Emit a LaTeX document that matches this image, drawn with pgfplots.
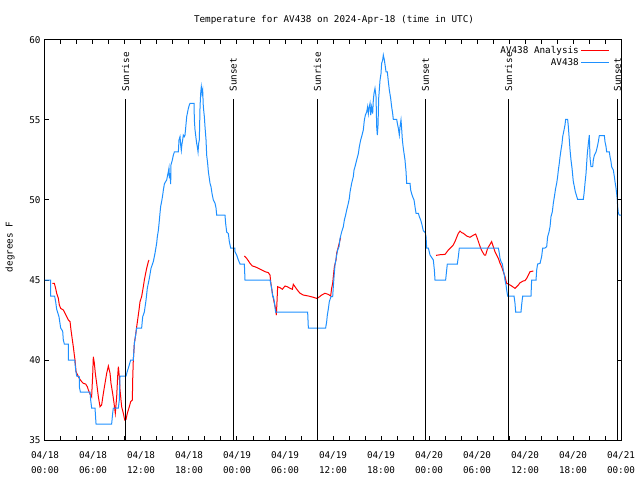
\documentclass[border=0pt]{standalone}
\usepackage{pgfplots}
\pgfplotsset{compat=1.18}
\usepackage{fontspec}
\setmainfont{DejaVu Sans Mono}
\definecolor{gpblue}{RGB}{30,144,255}
\definecolor{gpred}{RGB}{255,0,0}
\begin{document}
\begin{tikzpicture}[font=\fontsize{9.3bp}{11bp}\selectfont]
\useasboundingbox (-45bp,-40bp) rectangle (595bp,440bp);
\begin{axis}[
  width=576bp, height=400bp, scale only axis,
  xmin=0, xmax=72, ymin=35, ymax=60,
  clip=false,
  axis line style={black, line width=1bp},
  every tick/.style={black, line width=1bp},
  tick align=inside,
  major tick length=4.5bp, minor tick length=4.5bp,
  xtick={0,6,...,72}, minor x tick num=2,
  xticklabels={{04/18\\00:00},{04/18\\06:00},{04/18\\12:00},{04/18\\18:00},{04/19\\00:00},{04/19\\06:00},{04/19\\12:00},{04/19\\18:00},{04/20\\00:00},{04/20\\06:00},{04/20\\12:00},{04/20\\18:00},{04/21\\00:00}},
  xticklabel style={align=center, font=\fontsize{9.3bp}{15bp}\selectfont, yshift=-8bp},
  ytick={35,40,...,60},
  yticklabel style={xshift=-1bp},
  /pgf/number format/assume math mode=true,
  legend style={at={(1,1)}, anchor=north east, xshift=-10bp, yshift=-3.5bp, draw=none, fill=none, font=\fontsize{9.3bp}{11bp}\selectfont, row sep=-1bp, inner sep=1bp},
  legend cell align=right,
  legend plot pos=right,
  legend image code/.code={\draw[#1] (0bp,0bp) -- (28bp,0bp);},
]
\addplot[gpred, line width=1bp, unbounded coords=jump] coordinates {
(0.92,44.79)(1.17,44.79)(1.33,44.48)(1.46,44.17)(1.67,43.85)(1.79,43.44)(1.96,43.23)(2.29,43.125)(2.5,42.92)(2.71,42.71)(2.92,42.5)(3.13,42.4)(3.25,41.875)(3.42,41.25)(3.54,40.83)(3.67,40.3)(3.75,40.0)(3.88,39.27)(4.08,39.06)(4.29,38.85)(4.58,38.65)(4.79,38.54)(5.08,38.5)(5.29,38.33)(5.42,38.125)(5.63,37.875)(5.83,37.7)(5.96,39.06)(6.04,40.2)(6.17,39.8)(6.29,39.17)(6.46,38.54)(6.67,37.7)(6.88,37.08)(7.08,37.19)(7.29,37.9)(7.5,38.54)(7.71,39.17)(7.92,39.625)(8.13,39.17)(8.25,38.54)(8.46,37.9)(8.63,37.3)(8.79,36.67)(8.96,37.7)(9.08,38.96)(9.17,39.58)(9.29,38.96)(9.38,38.125)(9.58,37.08)(9.79,36.67)(9.96,36.25)(10.13,36.29)(10.29,36.67)(10.54,37.08)(10.71,37.4)(10.92,37.5)(10.96,38.75)(11.04,40.0)(11.17,41.04)(11.33,41.56)(11.46,42.08)(11.58,42.5)(11.75,43.125)(11.88,43.65)(12.08,43.96)(12.29,44.58)(12.42,45.0)(12.58,45.42)(12.71,45.73)(12.92,46.15)(13.0,46.25)
(18,nan)
(24.92,46.5)(25.21,46.35)(25.42,46.2)(25.63,46.04)(25.92,45.875)(26.25,45.83)(26.67,45.73)(27.08,45.625)(27.5,45.52)(27.92,45.46)(28.13,45.3)(28.21,44.9)(28.33,44.48)(28.46,44.06)(28.67,43.54)(28.79,43.29)(28.92,42.8)(29.0,43.65)(29.08,44.58)(29.38,44.52)(29.67,44.42)(30.0,44.625)(30.29,44.58)(30.63,44.48)(30.92,44.42)(31.04,44.73)(31.25,44.58)(31.54,44.375)(31.88,44.17)(32.29,44.06)(32.92,44.0)(33.54,43.92)(33.96,43.85)(34.17,43.9)(34.58,44.06)(35.0,44.17)(35.42,44.1)(35.71,44.0)(35.83,44.48)(35.96,44.79)(36.04,45.2)(36.17,45.83)(36.38,46.25)(36.46,46.67)(36.67,47.08)(36.88,47.5)(36.95,47.65)
(42,nan)
(48.88,46.54)(49.38,46.58)(50.0,46.6)(50.42,46.875)(50.83,47.08)(51.04,47.19)(51.25,47.4)(51.46,47.67)(51.67,47.92)(51.88,48.06)(52.08,47.96)(52.29,47.92)(52.71,47.75)(53.13,47.67)(53.54,47.8)(53.83,47.875)(54.04,47.6)(54.25,47.29)(54.46,46.98)(54.67,46.77)(54.92,46.56)(55.08,46.56)(55.33,46.98)(55.63,47.23)(55.83,47.4)(56.04,47.08)(56.25,46.77)(56.46,46.56)(56.67,46.35)(56.88,46.04)(57.08,45.83)(57.29,45.52)(57.5,45.2)(57.71,44.79)(57.92,44.75)(58.33,44.625)(58.75,44.48)(58.96,44.58)(59.17,44.69)(59.38,44.83)(59.79,44.94)(60.0,44.96)(60.21,45.1)(60.42,45.31)(60.63,45.52)(61.04,45.56)
};
\addlegendentry{AV438 Analysis}
\addplot[gpblue, line width=1bp] coordinates {
(0,45)(0.7,45)(0.7,44)(1.2,44)(1.33,43.65)(1.46,43.17)(1.75,42.7)(1.96,42.0)(2.21,41.8)(2.29,41.25)(2.42,41.0)(2.92,41)(2.92,40)(3.71,40)(3.83,39.4)(3.96,39.0)(4.29,38.95)(4.29,38.33)(4.42,38.0)(5.63,38)(5.71,37.5)(5.83,37.0)(6.25,37)(6.38,36)(8.33,36)(8.46,36.67)(8.54,37.0)(9.17,37)(9.29,37.5)(9.38,39.0)(10.13,39)(10.29,39.3)(10.42,39.5)(10.54,39.7)(10.71,40)(11.04,40)(11.17,41.04)(11.33,41.56)(11.46,42)(12.08,42)(12.21,42.7)(12.42,43.0)(12.63,43.75)(12.79,44.48)(13.04,45.1)(13.25,45.73)(13.54,46.15)(13.75,46.67)
(13.96,47.3)(14.04,47.7)(14.17,48.1)(14.25,48.5)(14.38,49.2)(14.46,49.6)(14.58,49.9)(14.71,50.3)(14.79,50.6)(14.92,51.0)(15.08,51.15)(15.21,51.25)(15.33,51.56)(15.42,51.77)(15.5,52.0)(15.54,51.35)(15.63,51.67)(15.71,51.0)(15.75,52.2)(15.92,52.5)(16.04,52.8)(16.17,53.0)(16.67,53)(16.75,53.75)(16.88,53.96)(16.96,53.44)(17.04,53.1)(17.13,53.54)(17.21,53.75)(17.29,54.06)(17.42,53.96)(17.5,54.06)(17.58,54.48)(17.71,55.2)(17.83,55.5)(17.92,55.73)(18.04,55.94)(18.13,56.04)(18.63,56.04)(18.67,55.0)(18.75,54.4)(18.88,53.85)(18.96,53.54)(19.04,53.33)(19.13,53.0)(19.21,53.54)(19.29,53.75)(19.38,55.83)(19.46,56.67)(19.54,57.08)(19.63,56.67)(19.71,56.875)(19.79,55.83)(19.92,55.2)(20.0,54.58)(20.13,53.75)(20.21,52.8)(20.33,52.3)(20.42,51.77)(20.54,51.35)(20.63,51.04)(20.75,50.83)(20.88,50.4)(21.04,50.0)(21.25,49.8)(21.38,49.5)(21.46,49.06)(22.5,49.06)(22.58,48.54)(22.71,48.0)(22.92,47.9)(23.04,47.4)(23.21,47.0)(23.75,47.0)(23.75,46.77)(23.96,46.56)(24.17,46.25)(24.38,46.0)(24.92,46)(25.0,45)
(28.13,45)(28.21,44.8)(28.33,44.48)(28.46,43.96)(28.54,43.96)(28.67,43.65)(28.75,43.3)(28.83,43.0)(32.83,43)(32.92,42.0)(35.08,42)(35.21,42.4)(35.29,42.8)(35.42,43.2)(35.54,43.65)(35.75,43.96)(35.96,43.96)(36.04,44.58)(36.13,45.2)(36.25,45.94)(36.46,46.56)(36.58,46.875)(36.75,47.08)(36.88,47.6)(37.08,48.0)(37.29,48.33)(37.42,48.75)
(37.58,49.06)(37.71,49.375)(37.92,49.8)(38.04,50.1)(38.13,50.5)(38.33,51.04)(38.54,51.46)(38.63,51.875)(38.75,52.08)(38.96,52.5)(39.17,52.9)(39.29,53.33)(39.46,53.75)(39.58,53.96)(39.79,54.375)(39.92,55.0)(40.04,55.3)(40.21,55.5)(40.33,55.83)(40.42,55.4)(40.5,55.73)(40.63,56.04)(40.71,55.3)(40.83,55.83)(40.96,55.4)(41.04,56.25)(41.13,56.67)(41.25,56.98)(41.38,56.46)(41.46,54.58)(41.54,54.06)(41.63,54.69)(41.71,56.35)(41.88,57.5)(42.0,57.9)(42.08,58.54)(42.21,58.75)(42.29,59.06)(42.42,58.75)(42.54,58.33)(42.63,58.0)(42.79,58.0)(42.92,57.4)(43.04,56.875)(43.21,56.35)(43.33,55.83)(43.46,55.4)(43.54,55.04)(43.96,55.04)(44.04,54.8)(44.17,54.48)(44.29,54.06)(44.38,54.58)(44.5,55.0)(44.58,54.48)(44.67,53.75)(44.79,53.23)(45.0,52.5)(45.13,51.77)(45.21,51.04)(45.63,51.04)(45.71,50.625)(45.83,50.4)(45.96,50.2)(46.13,50.0)(46.25,49.58)(46.38,49.17)(46.67,49.17)(46.79,48.96)(46.96,48.75)(47.08,48.54)(47.29,48.08)(47.54,47.96)(47.63,47.7)(47.71,47.0)(47.92,47.0)(48.13,46.56)(48.54,46.25)(48.67,45.625)(48.75,45.0)(50.08,45)(50.21,45.625)(50.29,46.0)(51.54,46)(51.67,46.46)(51.79,47.0)
(56.67,47)(56.79,46.67)(56.88,46.35)(57.0,46.15)(57.17,46.0)(57.29,45.625)(57.42,45.3)(57.5,45.0)(57.63,44.69)(57.71,44.375)(57.83,44.0)(58.63,44)(58.75,43.54)(58.83,43.0)(59.5,43)(59.58,43.44)(59.71,44.0)(60.75,44)(60.83,45.0)(61.38,45)(61.46,45.625)(61.58,46.0)(61.88,46.04)(62.08,46.46)(62.21,47.0)(62.5,47)(62.71,47.08)(62.83,47.7)(63.0,48.0)(63.13,48.33)(63.25,48.96)(63.42,49.27)(63.54,49.8)(63.67,50.2)(63.83,50.73)(63.96,51.04)
(64.08,51.46)(64.17,51.875)(64.29,52.3)(64.38,52.7)(64.5,53.125)(64.63,53.54)(64.71,53.96)(64.88,54.375)(65.0,54.69)(65.08,55.04)(65.33,55.04)(65.42,54.58)(65.54,53.75)(65.63,53.125)(65.75,52.5)(65.88,51.98)(65.96,51.56)(66.04,51.15)(66.17,50.83)(66.29,50.52)(66.42,50.3)(66.58,50.04)(67.29,50.04)(67.38,50.4)(67.5,51.04)(67.63,51.67)(67.71,52.3)(67.79,52.9)(67.92,53.54)(68.04,54.06)(68.13,52.6)(68.25,52.08)(68.46,52.08)(68.54,52.5)(68.67,52.8)(68.88,53.0)(69.04,53.33)(69.17,53.65)(69.29,54.02)(69.92,54.02)(70.0,53.65)(70.13,53.33)(70.21,53.0)(70.54,53.0)(70.63,52.7)(70.75,52.4)(70.83,52.08)(71.04,51.875)(71.17,51.46)(71.25,51.15)(71.38,50.73)(71.46,50.4)(71.54,50.0)(71.58,49.58)(71.67,49.17)(71.79,49.06)(72,49.06)
};
\addlegendentry{AV438}
% sunrise / sunset markers
\addplot[black, line width=1bp, forget plot] coordinates {(10.08,35)(10.08,56.3)};
\addplot[black, line width=1bp, forget plot] coordinates {(23.54,35)(23.54,56.3)};
\addplot[black, line width=1bp, forget plot] coordinates {(34.05,35)(34.05,56.3)};
\addplot[black, line width=1bp, forget plot] coordinates {(47.55,35)(47.55,56.3)};
\addplot[black, line width=1bp, forget plot] coordinates {(57.95,35)(57.95,56.3)};
\addplot[black, line width=1bp, forget plot] coordinates {(71.55,35)(71.55,56.3)};
\node[rotate=90, anchor=west, inner sep=0pt] at (axis cs:10.08,56.77) {Sunrise};
\node[rotate=90, anchor=west, inner sep=0pt] at (axis cs:23.54,56.77) {Sunset};
\node[rotate=90, anchor=west, inner sep=0pt] at (axis cs:34.05,56.77) {Sunrise};
\node[rotate=90, anchor=west, inner sep=0pt] at (axis cs:47.55,56.77) {Sunset};
\node[rotate=90, anchor=west, inner sep=0pt] at (axis cs:57.95,56.77) {Sunrise};
\node[rotate=90, anchor=west, inner sep=0pt] at (axis cs:71.55,56.77) {Sunset};
\end{axis}
\node at (289bp,420bp) {Temperature for AV438 on 2024-Apr-18 (time in UTC)};
\node[rotate=90] at (-35bp,193bp) {degrees F};
\end{tikzpicture}
\end{document}
